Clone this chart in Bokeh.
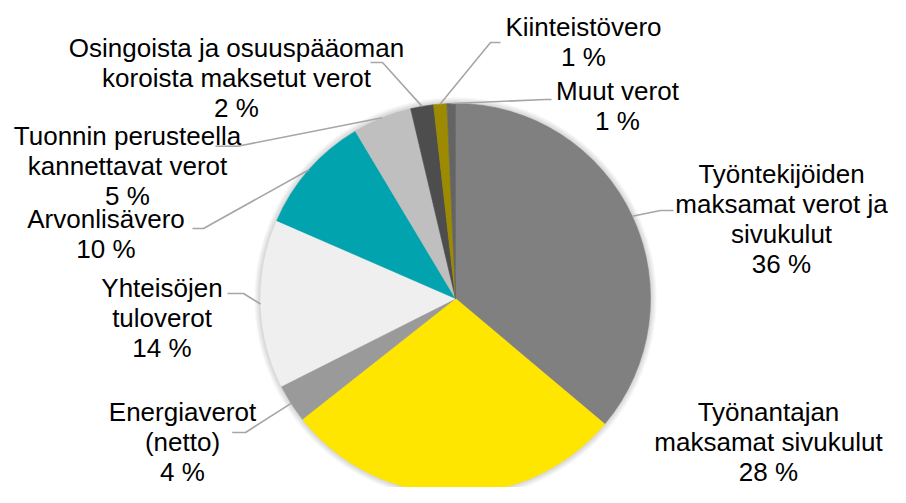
import numpy as np
from bokeh.plotting import figure
from bokeh.models import ColumnDataSource, Range1d
from bokeh.core.properties import value
from bokeh.embed import file_html
from bokeh.resources import INLINE

# ---- data ----
categories = [
    "Työntekijöiden\nmaksamat verot ja\nsivukulut",
    "Työnantajan\nmaksamat sivukulut",
    "Energiaverot\n(netto)",
    "Yhteisöjen\ntuloverot",
    "Arvonlisävero",
    "Tuonnin perusteella\nkannettavat verot",
    "Osingoista ja osuuspääoman\nkoroista maksetut verot",
    "Kiinteistövero",
    "Muut verot",
]
shares = [36.2, 28.3, 3.2, 14.0, 9.9, 4.9, 1.9, 1.1, 0.7]
pct_labels = ["36 %", "28 %", "4 %", "14 %", "10 %", "5 %", "2 %", "1 %", "1 %"]

# ---- styles ----
colors = ["#808080", "#FFE600", "#9A9A9A", "#EFEFEF", "#00A3AE",
          "#BFBFBF", "#4D4D4D", "#9C8A00", "#646464"]

# ---- layout (reference pixel coordinates) ----
H = 503
FIG_W, FIG_H = 890, 487
CX, CY, R = 455, 298, 195
label_x = [781, 768, 182, 161.5, 105.5, 127, 236, 583, 617]
label_y0 = [183.3, 421, 421, 296.7, 228.3, 145, 56.7, 35.7, 100]
line_gap = 30
TEXT_DY = 9.5  # renderer places alphabetic baseline this much lower
elbow = [(660, 210), None, (245, 432), (243, 293), (203, 228), (237, 145.7), (382, 62), (490, 42), (545, 99)]
lend = [(673, 210), None, (231.7, 432), (227, 293), (192, 228), (215, 145.7), (370, 62), (500, 42), (551, 99)]
FONT = "Liberation Sans"
FSIZE = "26px"


def Y(y):
    return H - y


vals = np.array(shares, dtype=float)
frac = vals / vals.sum()
c1 = np.cumsum(frac)
c0 = c1 - frac
start = np.pi / 2 - 2 * np.pi * c1
end = np.pi / 2 - 2 * np.pi * c0
mid = (c0 + c1) / 2 * 2 * np.pi  # clockwise from top

p = figure(width=FIG_W, height=FIG_H, x_range=Range1d(0, FIG_W), y_range=Range1d(H - FIG_H, H),
           output_backend="svg", toolbar_location=None, min_border=0,
           x_axis_location=None, y_axis_location=None)
p.grid.visible = False
p.outline_line_color = None
p.background_fill_color = "white"
p.border_fill_color = "white"

# soft shadow around the pie
for k in range(1, 8):
    p.circle(x=[CX], y=[Y(CY)], radius=R + k * 0.9, fill_color="#000000",
             fill_alpha=0.025, line_color=None)

src = ColumnDataSource(dict(start=start, end=end, color=colors, cat=categories))
p.wedge(x=CX, y=Y(CY), radius=R, start_angle="start", end_angle="end",
        fill_color="color", line_color="color", line_width=0.6, source=src)

# leader lines
xs, ys = [], []
for i in range(len(shares)):
    if elbow[i] is None:
        continue
    sx = CX + R * np.sin(mid[i])
    sy = CY - R * np.cos(mid[i])
    xs.append([sx, elbow[i][0], lend[i][0]])
    ys.append([Y(sy), Y(elbow[i][1]), Y(lend[i][1])])
p.multi_line(xs=xs, ys=ys, line_color="#A6A6A6", line_width=1.6)

# labels
tx, ty, tt = [], [], []
for i, cat in enumerate(categories):
    lines = cat.split("\n") + [pct_labels[i]]
    for j, ln in enumerate(lines):
        tx.append(label_x[i])
        ty.append(Y(label_y0[i] + j * line_gap - TEXT_DY))
        tt.append(ln)
p.text(x=tx, y=ty, text=tt, text_font=value(FONT), text_font_size=FSIZE,
       text_align="center", text_baseline="alphabetic", text_color="#000000")

open("out.html", "w").write(file_html(p, INLINE))
